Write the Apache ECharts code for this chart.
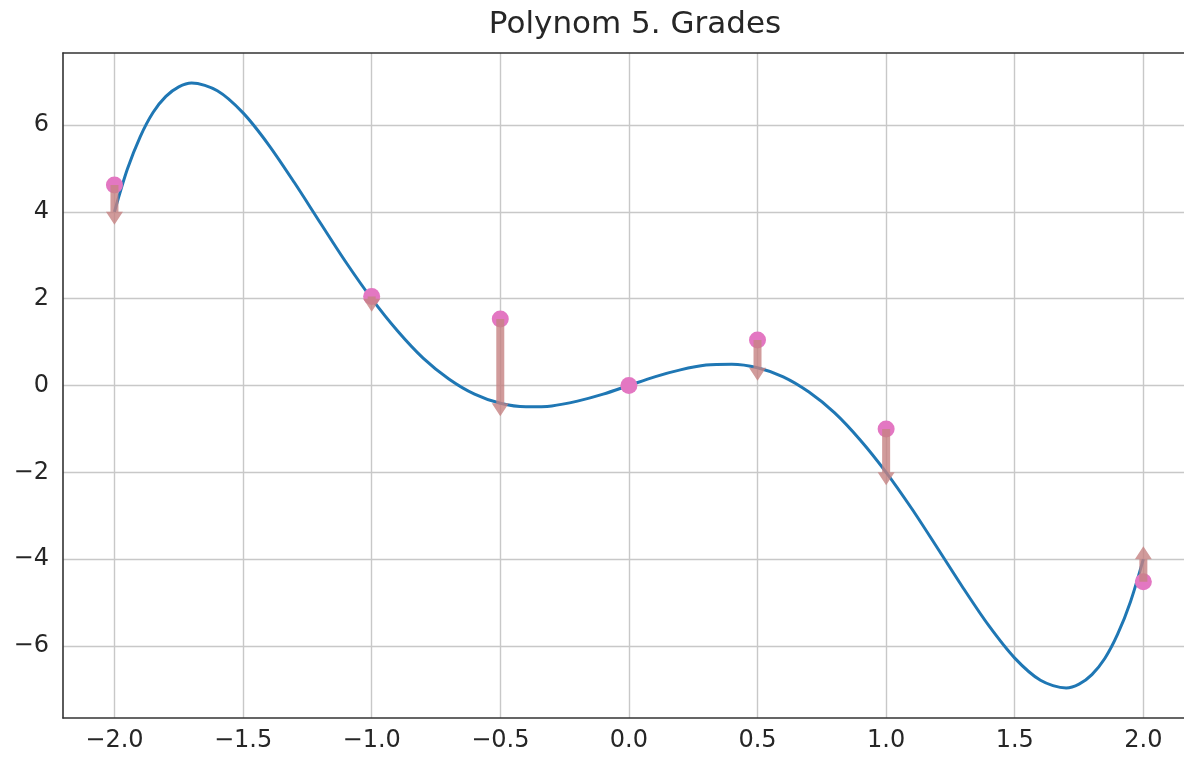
<!DOCTYPE html>
<html><head><meta charset="utf-8">
<script src="https://cdn.jsdelivr.net/npm/echarts@6/dist/echarts.min.js"></script>
<style>html,body{margin:0;padding:0;background:#fff}#c{width:1184px;height:757px}</style>
</head><body><div id="c"></div>
<script>
const chartTitle = 'Polynom 5. Grades';
const xTicks = [-2, -1.5, -1, -0.5, 0, 0.5, 1, 1.5, 2];
const yTicks = [-6, -4, -2, 0, 2, 4, 6];
const curveX = [-2.0, -1.95, -1.9, -1.85, -1.8, -1.75, -1.7, -1.6, -1.5, -1.4, -1.3, -1.2, -1.1, -1.0, -0.9, -0.8, -0.7, -0.6, -0.5, -0.4, -0.3, -0.2, -0.1, 0.0,
                0.1, 0.2, 0.3, 0.4, 0.5, 0.6, 0.7, 0.8, 0.9, 1.0, 1.1, 1.2, 1.3, 1.4, 1.5, 1.6, 1.7, 1.75, 1.8, 1.85, 1.9, 1.95, 2.0];
const curveY = [4.0, 4.98, 5.73, 6.29, 6.66, 6.88, 6.97, 6.79, 6.28, 5.54, 4.67, 3.75, 2.84, 2.0, 1.26, 0.63, 0.15, -0.20, -0.41, -0.49, -0.47, -0.36, -0.20, 0.0,
                0.20, 0.36, 0.47, 0.49, 0.41, 0.20, -0.15, -0.63, -1.26, -2.0, -2.84, -3.75, -4.67, -5.54, -6.28, -6.79, -6.97, -6.88, -6.66, -6.29, -5.73, -4.98, -4.0];
const pointX = [-2, -1, -0.5, 0, 0.5, 1, 2];
const pointY = [4.62, 2.05, 1.53, 0, 1.05, -1.0, -4.52];
const arrowEndY = [4.0, 2.0, -0.41, 0, 0.41, -2.0, -4.0];

const font = 'DejaVu Sans';
const fmtMinus = s => s.replace('-', '\u2212');
const xMin = -2.2, xMax = 2.158, yMin = -7.66, yMax = 7.66;
const spine = {show: true, onZero: false, lineStyle: {color: '#333333', width: 1.6}};

const chart = echarts.init(document.getElementById('c'), null, {renderer: 'canvas'});
chart.setOption({
  animation: false,
  backgroundColor: '#ffffff',
  title: {
    text: chartTitle, left: 630, top: 4, textAlign: 'center',
    textStyle: {fontFamily: font, fontSize: 31, fontWeight: 'normal', color: '#262626'}
  },
  grid: {left: 63, top: 53, width: 1121, height: 665, show: false},
  xAxis: [{
    type: 'value', min: xMin, max: xMax, position: 'bottom',
    axisLine: spine,
    axisTick: {show: false, customValues: xTicks},
    axisLabel: {customValues: xTicks, fontFamily: font, fontSize: 24, color: '#262626', margin: 11,
      formatter: v => fmtMinus(Number(v).toFixed(1))},
    splitLine: {show: true, lineStyle: {color: '#c8c8c8', width: 1.4}}
  }, {
    type: 'value', min: xMin, max: xMax, position: 'top',
    axisLine: spine, axisTick: {show: false}, axisLabel: {show: false}, splitLine: {show: false}
  }],
  yAxis: {
    type: 'value', min: yMin, max: yMax,
    axisLine: spine,
    axisTick: {show: false, customValues: yTicks},
    axisLabel: {customValues: yTicks, fontFamily: font, fontSize: 24, color: '#262626', margin: 14,
      formatter: v => fmtMinus(String(Math.round(v)))},
    splitLine: {show: true, lineStyle: {color: '#c8c8c8', width: 1.4}}
  },
  series: [
    {
      type: 'line', z: 2, smooth: 0.3, showSymbol: false, xAxisIndex: 0,
      data: curveX.map((x, i) => [x, curveY[i]]),
      lineStyle: {color: '#1f77b4', width: 3}
    },
    {
      type: 'scatter', z: 3, symbolSize: 17, xAxisIndex: 0,
      data: pointX.map((x, i) => [x, pointY[i]]),
      itemStyle: {color: '#e377c2', opacity: 1}
    },
    {
      type: 'custom', z: 4, xAxisIndex: 0,
      data: pointX.map((x, i) => [x, pointY[i], arrowEndY[i]]),
      encode: {x: 0, y: [1, 2]},
      renderItem: function (params, api) {
        const x = api.value(0), ya = api.value(1), yb = api.value(2);
        const p0 = api.coord([x, ya]), p1 = api.coord([x, yb]);
        const dy = p1[1] - p0[1];
        if (Math.abs(dy) < 0.5) return {type: 'group', children: []};
        const d = dy > 0 ? 1 : -1;
        const hw = 4, HW = 8.5, HL = 13;
        return {
          type: 'polygon',
          shape: {points: [
            [p0[0] - hw, p0[1]], [p0[0] + hw, p0[1]],
            [p1[0] + hw, p1[1]], [p1[0] + HW, p1[1]],
            [p1[0], p1[1] + d * HL],
            [p1[0] - HW, p1[1]], [p1[0] - hw, p1[1]]
          ]},
          style: {fill: 'rgba(198,130,130,0.8)'}
        };
      }
    }
  ]
});
</script>
</body></html>
